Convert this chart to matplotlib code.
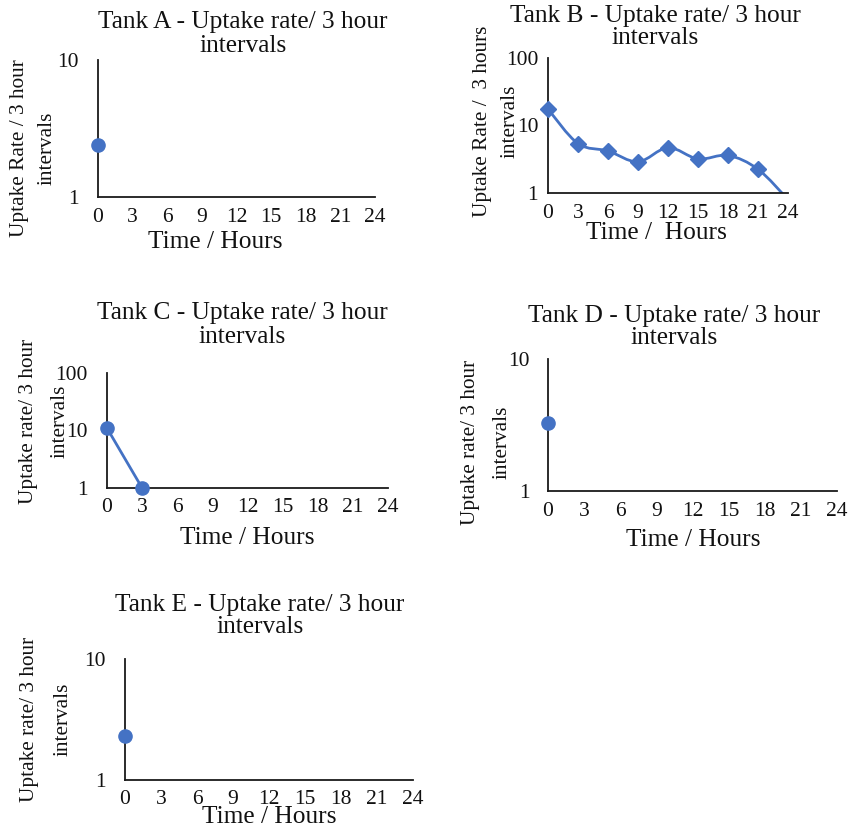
import numpy as np
import matplotlib
matplotlib.use("Agg")
import matplotlib.pyplot as plt
from matplotlib.path import Path
from matplotlib.patches import PathPatch
from matplotlib.ticker import FixedLocator, NullLocator

plt.rcParams['font.family'] = ['Liberation Serif', 'DejaVu Serif']

W, H = 850, 826
BLUE = '#4472C4'
AXC = '#1a1a1a'

hour_ticks = list(range(0, 25, 3))

# values (log scale)
tank_a_hours = [0]
tank_a_rate = [2.4]

tank_b_hours = [0, 3, 6, 9, 12, 15, 18, 21, 24]
tank_b_rate = [17.5, 5.4, 4.2, 2.9, 4.7, 3.2, 3.6, 2.25, 0.8]

tank_c_hours = [0, 3]
tank_c_rate = [11.0, 1.0]

tank_d_hours = [0]
tank_d_rate = [3.3]

tank_e_hours = [0]
tank_e_rate = [2.3]


def fx(x):
    return x / W


def fy(y):
    return 1 - y / H


def smooth_path(xs, ys):
    # Excel style smoothing: catmull-rom in (x, log y), drawn as cubic beziers
    px = np.array(xs, float)
    py = np.log10(np.array(ys, float))
    n = len(px)
    verts = [(px[0], py[0])]
    codes = [Path.MOVETO]
    for i in range(n - 1):
        p0 = (px[max(i - 1, 0)], py[max(i - 1, 0)])
        p1 = (px[i], py[i])
        p2 = (px[i + 1], py[i + 1])
        p3 = (px[min(i + 2, n - 1)], py[min(i + 2, n - 1)])
        c1 = (p1[0] + (p2[0] - p0[0]) / 6, p1[1] + (p2[1] - p0[1]) / 6)
        c2 = (p2[0] - (p3[0] - p1[0]) / 6, p2[1] - (p3[1] - p1[1]) / 6)
        verts += [c1, c2, p2]
        codes += [Path.CURVE4] * 3
    verts = [(vx, 10 ** vy) for vx, vy in verts]
    return Path(verts, codes)


fig = plt.figure(figsize=(W / 100, H / 100), dpi=100)

panels = [
    # name, box(left, right, top, bottom px), ymax, data, marker, ylabel, text positions
    dict(name='A', box=(98, 375, 60, 197), ymax=10, hours=tank_a_hours, rate=tank_a_rate,
         marker='o', ylab=('Uptake Rate / 3 hour', 'intervals'), ylx=(20, 47), yly=148,
         title=(243, 22, 46), xlab=(215, 242), xpad=8, ypad=14, smooth=False),
    dict(name='B', box=(548, 788, 58, 193), ymax=100, hours=tank_b_hours, rate=tank_b_rate,
         marker='D', ylab=('Uptake Rate /  3 hours', 'intervals'), ylx=(483, 510), yly=121,
         title=(655, 16, 38), xlab=(656, 233), xpad=8, ypad=7, smooth=True),
    dict(name='C', box=(107, 388, 373, 488), ymax=100, hours=tank_c_hours, rate=tank_c_rate,
         marker='o', ylab=('Uptake rate/ 3 hour', 'intervals'), ylx=(28, 60), yly=421,
         title=(242, 313, 337), xlab=(247, 538), xpad=7, ypad=14, smooth=False),
    dict(name='D', box=(548, 837, 359, 491), ymax=10, hours=tank_d_hours, rate=tank_d_rate,
         marker='o', ylab=('Uptake rate/ 3 hour', 'intervals'), ylx=(470, 502), yly=442,
         title=(674, 316, 338), xlab=(693, 540), xpad=8, ypad=13, smooth=False),
    dict(name='E', box=(125, 413, 659, 780), ymax=10, hours=tank_e_hours, rate=tank_e_rate,
         marker='o', ylab=('Uptake rate/ 3 hour', 'intervals'), ylx=(30, 63), yly=719,
         title=(260, 605, 627), xlab=(269, 817), xpad=7, ypad=14, smooth=False),
]

for p in panels:
    l, r, t, b = p['box']
    ax = fig.add_axes([fx(l), fy(b), (r - l) / W, (b - t) / H])
    ax.set_yscale('log')
    ax.set_xlim(0, 24)
    ax.set_ylim(1, p['ymax'])
    for s in ['top', 'right']:
        ax.spines[s].set_visible(False)
    for s in ['left', 'bottom']:
        ax.spines[s].set_color(AXC)
        ax.spines[s].set_linewidth(1.3)
    ax.set_xticks(hour_ticks)
    ax.set_xticklabels([str(h) for h in hour_ticks])
    yt = [1, 10] if p['ymax'] == 10 else [1, 10, 100]
    ax.yaxis.set_major_locator(FixedLocator(yt))
    ax.yaxis.set_minor_locator(NullLocator())
    ax.set_yticklabels([str(v) for v in yt])
    ax.tick_params(axis='x', length=0, pad=p['xpad'], labelsize=15.5, colors='#111')
    ax.tick_params(axis='y', length=0, pad=p['ypad'], labelsize=15.5, colors='#111')

    hrs = np.array(p['hours'])
    rt = np.array(p['rate'])
    if p['smooth']:
        ax.add_patch(PathPatch(smooth_path(hrs, rt), facecolor='none', edgecolor=BLUE,
                               lw=2.0, capstyle='round'))
        ms = 8
    else:
        if len(hrs) > 1:
            ax.plot(hrs, rt, color=BLUE, lw=2.0)
        ms = 9.5
    keep = rt >= 1
    ax.plot(hrs[keep], rt[keep], linestyle='none', marker=p['marker'], ms=ms,
            color=BLUE, clip_on=False, zorder=5)

    # title (two centered lines)
    tx, ty1, ty2 = p['title']
    fig.text(fx(tx), fy(ty1), 'Tank %s - Uptake rate/ 3 hour' % p['name'],
             ha='center', va='center', fontsize=18.3, color='#111')
    fig.text(fx(tx), fy(ty2), 'intervals', ha='center', va='center', fontsize=18.3, color='#111')

    # axis titles
    xx, xy = p['xlab']
    fig.text(fx(xx), fy(xy), 'Time /  Hours' if p['name'] == 'B' else 'Time / Hours',
             ha='center', va='center', fontsize=18.3, color='#111')
    for k, line in enumerate(p['ylab']):
        fig.text(fx(p['ylx'][k]), fy(p['yly']), line, rotation=90,
                 ha='center', va='center', fontsize=15.3, color='#111')

fig.savefig('out.png', dpi=100)
